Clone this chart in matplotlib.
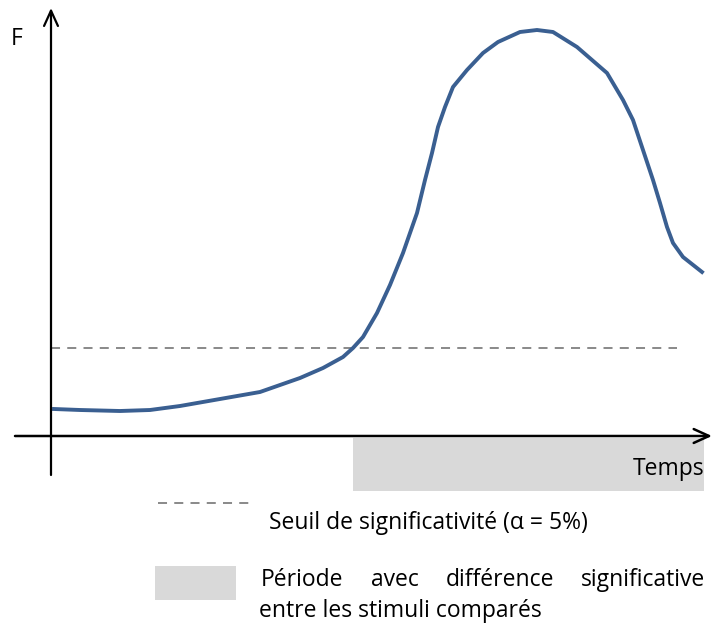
import matplotlib
matplotlib.use("Agg")
import matplotlib.pyplot as plt

plt.rcParams['font.family'] = ['Open Sans', 'DejaVu Sans']

# courbe F(t) (t et F en unites arbitraires)
t = [3, 29, 69, 99, 129, 169, 209, 229, 249, 272, 292, 302, 312, 326, 339,
     352, 366, 374, 381, 387, 394, 402, 416, 432, 447, 469, 486, 502, 526,
     541, 556, 572, 582, 592, 602, 609, 616, 622, 632, 651]
F = [27, 26, 25, 26, 30, 37, 44, 51, 58, 68, 79, 88, 99, 123, 151,
     183, 223, 256, 283, 309, 329, 349, 366, 383, 394, 404, 406, 404, 389,
     376, 363, 336, 316, 286, 256, 233, 209, 193, 179, 164]

seuil = 88
t_seuil_fin = 626
periode = (302, 653)
t_max = 661
F_max = 428

fig = plt.figure(figsize=(7.2, 6.25), dpi=100)
ax = fig.add_axes([0, 0, 1, 1])
ax.set_xlim(-51, 669)
ax.set_ylim(-189, 436)
ax.axis("off")

blue = "#3a5f91"
grey = "#d9d9d9"

# periode significative
ax.fill_between(periode, -55, -2, color=grey, lw=0, zorder=1)
# seuil
ax.plot([0, t_seuil_fin], [seuil, seuil], color="#808080", lw=1.3,
        dashes=(5, 4), zorder=2)
# courbe
ax.plot(t, F, color=blue, lw=2.8, solid_joinstyle="round", zorder=3)

# axes avec fleches ouvertes
ax.annotate("", xy=(t_max, 0), xytext=(-36, 0),
            arrowprops=dict(arrowstyle="->,head_length=1.1,head_width=0.5",
                            lw=1.8, color="black", shrinkA=0, shrinkB=0),
            zorder=4)
ax.annotate("", xy=(0, F_max), xytext=(0, -39),
            arrowprops=dict(arrowstyle="->,head_length=1.1,head_width=0.5",
                            lw=1.6, color="black", shrinkA=0, shrinkB=0),
            zorder=4)

fs = 16.5
ax.text(-40, 397, "F", fontsize=fs, ha="left", va="center")
ax.text(653, -33, "Temps", fontsize=fs, ha="right", va="center")

# legende
ax.plot([107, 200], [-67, -67], color="#808080", lw=1.3, dashes=(5, 4))
ax.text(218, -87, "Seuil de significativité (α = 5%)", fontsize=fs,
        ha="left", va="center")
ax.fill_between([104, 185], [-130, -130], [-164, -164], color=grey, lw=0)
y1 = -144
ax.text(210, y1, "Période", fontsize=fs, ha="left", va="center")
ax.text(320, y1, "avec", fontsize=fs, ha="left", va="center")
ax.text(395, y1, "différence", fontsize=fs, ha="left", va="center")
ax.text(654, y1, "significative", fontsize=fs, ha="right", va="center")
ax.text(208, -175, "entre les stimuli comparés", fontsize=fs,
        ha="left", va="center")

plt.savefig("out.png", dpi=100)
